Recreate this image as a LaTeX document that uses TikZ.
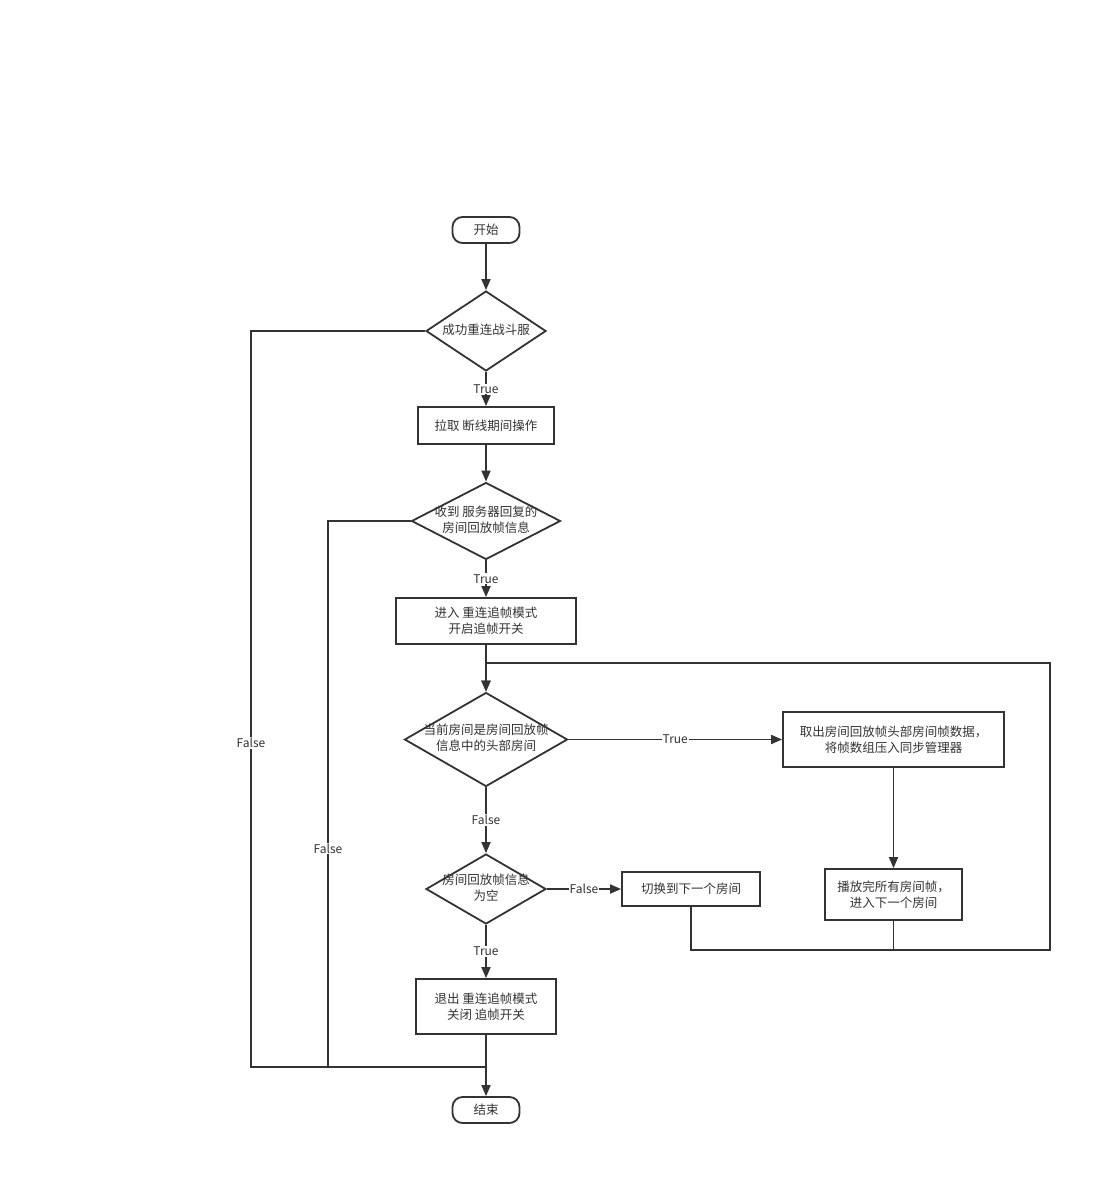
\documentclass[tikz,border=0pt]{standalone}
\usepackage{fontspec}
\setmainfont{Noto Sans CJK SC}
\usetikzlibrary{shapes.geometric,arrows.meta}
\definecolor{linegray}{HTML}{333333}
\newcommand{\dlines}[1]{\makebox[0pt]{\begin{tabular}{@{}c@{}}#1\end{tabular}}}
\tikzset{
    flow/.style={draw=linegray,line width=1.8pt,text=linegray,font=\fontsize{12.5}{16}\selectfont,inner sep=0pt},
    terminal/.style={flow,rectangle,rounded corners=10pt,minimum width=67pt,minimum height=26pt},
    process/.style 2 args={flow,rectangle,align=center,minimum width=#1,minimum height=#2},
    decision/.style 2 args={flow,diamond,minimum width=#1,minimum height=#2},
    line/.style={draw=linegray,line width=1.8pt},
    arrow/.style={line,-{Triangle[length=11pt,width=9pt]}},
    cond/.style={fill=white,text=linegray,font=\fontsize{12}{14}\selectfont,inner sep=1pt}
}
\begin{document}
\begin{tikzpicture}[x=1pt,y=-1pt]
    \useasboundingbox (0,0) rectangle (1112,1185);
    % main column
    \node[terminal] (start) at (486,230) {开始};
    \node[decision={120pt}{80pt}] (reconnect) at (486,331) {\dlines{成功重连战斗服}};
    \node[process={136pt}{37pt}] (pull) at (486,425.5) {拉取 断线期间操作};
    \node[decision={149pt}{77pt}] (received) at (486,521) {\dlines{收到 服务器回复的\\房间回放帧信息}};
    \node[process={180pt}{46pt}] (enter) at (486,621) {进入 重连追帧模式\\开启追帧开关};
    \node[decision={163pt}{94pt}] (isHead) at (486,739.5) {\dlines{当前房间是房间回放帧\\信息中的头部房间}};
    \node[decision={120pt}{70pt}] (isEmpty) at (486,889) {\dlines{房间回放帧信息\\为空}};
    \node[process={140pt}{55pt}] (leave) at (486,1006.5) {退出 重连追帧模式\\关闭 追帧开关};
    \node[terminal] (stop) at (486,1110) {结束};
    % right side
    \node[process={221pt}{55pt}] (take) at (893.5,739.5) {取出房间回放帧头部房间帧数据，\\将帧数组压入同步管理器};
    \node[process={137pt}{51pt}] (play) at (893.5,894.5) {播放完所有房间帧，\\进入下一个房间};
    \node[process={138pt}{34pt}] (switch) at (691,889) {切换到下一个房间};
    \coordinate (loopbr) at (1050,950);
    \coordinate (looptr) at (1050,663);
    \coordinate (fail1) at (251,1067);
    \coordinate (fail2) at (328,1067);
    \coordinate (join) at (486,1067);

    \draw[arrow] (start) -- (reconnect);
    \draw[arrow] (reconnect) -- node[cond]{True} (pull);
    \draw[arrow] (pull) -- (received);
    \draw[arrow] (received) -- node[cond]{True} (enter);
    \draw[arrow] (enter) -- (isHead);
    \draw[arrow] (isHead.east) -- node[cond]{True} (take.west);
    \draw[arrow] (take) -- (play);
    \draw[arrow] (isHead) -- node[cond]{False} (isEmpty);
    \draw[arrow] (isEmpty.east) -- node[cond]{False} (switch.west);
    \draw[arrow] (isEmpty) -- node[cond]{True} (leave);
    \draw[arrow] (leave) -- (stop);
    % loop back
    \draw[arrow] (switch.south) |- (loopbr) -- (looptr) -| (isHead.north);
    \draw[line] (play.south) -- (play.south |- loopbr);
    % failures
    \draw[line] (reconnect.west) -| node[cond,pos=0.78]{False} (fail1) -- (join);
    \draw[line] (received.west) -| node[cond,pos=0.8]{False} (fail2) -- (join);
\end{tikzpicture}
\end{document}
